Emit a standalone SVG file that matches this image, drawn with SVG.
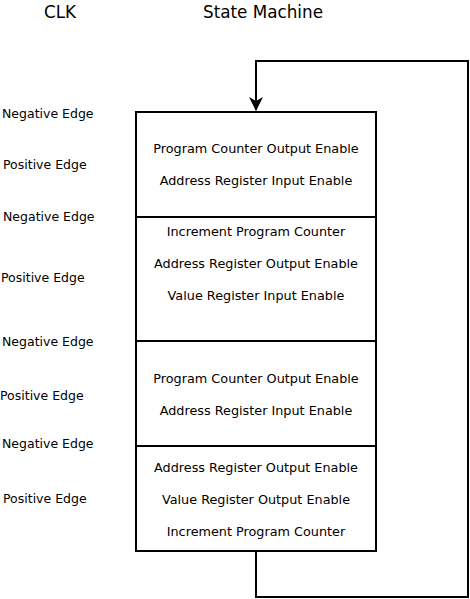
<svg xmlns="http://www.w3.org/2000/svg" width="470" height="599" viewBox="0 0 470 599">
<style>
text{font-family:"DejaVu Sans",sans-serif;fill:#000}
.t{font-size:12.8px;text-anchor:middle}
.c{font-size:12.5px}
.h{font-size:16.8px;text-anchor:middle}
.box{fill:#fff;stroke:#000;stroke-width:2}
.ln{fill:none;stroke:#000;stroke-width:2}
</style>
<defs>
<marker id="arr" markerWidth="14" markerHeight="14" refX="13" refY="7" orient="auto" markerUnits="userSpaceOnUse">
<path d="M0,0 L14,7 L0,14 L4,7 Z" fill="#000"/>
</marker>
</defs>
<rect width="470" height="599" fill="#fff"/>
<g id="titles">
<text class="h" x="60" y="18">CLK</text>
<text class="h" x="263" y="18">State Machine</text>
</g>
<g id="clk">
<text class="c" x="2" y="118">Negative Edge</text>
<text class="c" x="3" y="169">Positive Edge</text>
<text class="c" x="3" y="221">Negative Edge</text>
<text class="c" x="1" y="282">Positive Edge</text>
<text class="c" x="2" y="346">Negative Edge</text>
<text class="c" x="0" y="400">Positive Edge</text>
<text class="c" x="2" y="448">Negative Edge</text>
<text class="c" x="3" y="503">Positive Edge</text>
</g>
<g id="connectors">
<path class="ln" d="M256,551 V597 H468 V61 H256 V110" marker-end="url(#arr)"/>
</g>
<g id="state1">
<rect class="box" x="136" y="112" width="240" height="105"/>
<text class="t" x="256" y="153">Program Counter Output Enable</text>
<text class="t" x="256" y="185">Address Register Input Enable</text>
</g>
<g id="state2">
<rect class="box" x="136" y="217" width="240" height="124"/>
<text class="t" x="256" y="236">Increment Program Counter</text>
<text class="t" x="256" y="268">Address Register Output Enable</text>
<text class="t" x="256" y="300">Value Register Input Enable</text>
</g>
<g id="state3">
<rect class="box" x="136" y="341" width="240" height="105"/>
<text class="t" x="256" y="383">Program Counter Output Enable</text>
<text class="t" x="256" y="415">Address Register Input Enable</text>
</g>
<g id="state4">
<rect class="box" x="136" y="446" width="240" height="105"/>
<text class="t" x="256" y="472">Address Register Output Enable</text>
<text class="t" x="256" y="504">Value Register Output Enable</text>
<text class="t" x="256" y="536">Increment Program Counter</text>
</g>
</svg>
